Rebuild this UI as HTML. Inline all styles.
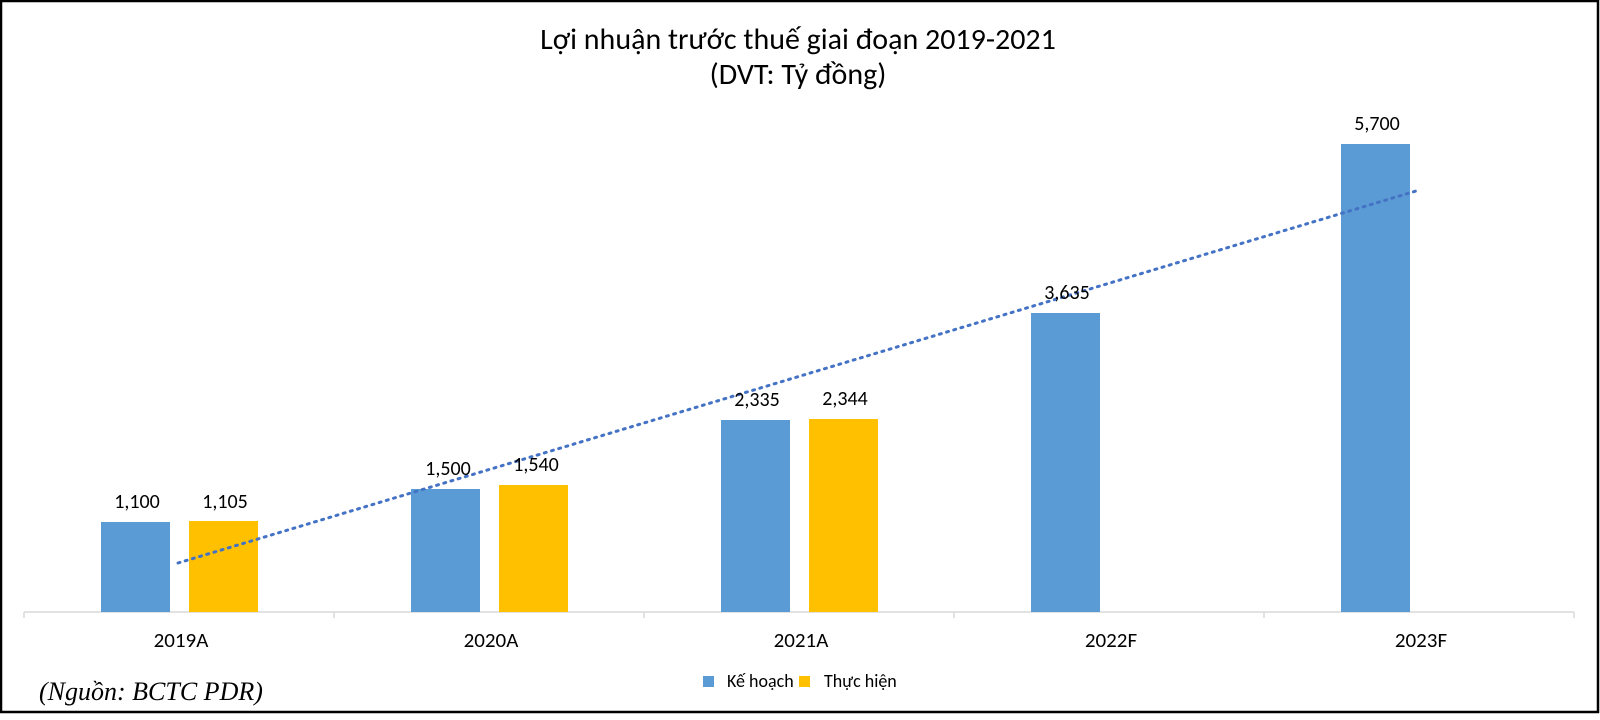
<!DOCTYPE html>
<html><head><meta charset="utf-8"><style>
html,body{margin:0;padding:0;background:#fff;}
svg{display:block;}
</style></head><body>
<svg width="1600" height="720" xmlns="http://www.w3.org/2000/svg" font-family="Calibri, Carlito, 'Liberation Sans', 'DejaVu Sans', sans-serif">
<rect x="1" y="1" width="1597" height="711" fill="#fff" stroke="#000" stroke-width="2.5"/>
<text x="798" y="49" font-size="30" text-anchor="middle" fill="#000">Lợi nhuận trước thuế giai đoạn 2019-2021</text>
<text x="798" y="84" font-size="30" text-anchor="middle" fill="#000">(DVT: Tỷ đồng)</text>
<line x1="24" y1="612" x2="1574" y2="612" stroke="#d9d9d9" stroke-width="1.5"/>
<g stroke="#d9d9d9" stroke-width="1.5">
<line x1="24" y1="612" x2="24" y2="618"/><line x1="334" y1="612" x2="334" y2="618"/><line x1="644" y1="612" x2="644" y2="618"/><line x1="954" y1="612" x2="954" y2="618"/><line x1="1264" y1="612" x2="1264" y2="618"/><line x1="1574" y1="612" x2="1574" y2="618"/>
</g>
<g fill="#5b9bd5">
<rect x="101" y="522" width="69" height="90"/>
<rect x="411" y="489" width="69" height="123"/>
<rect x="721" y="420" width="69" height="192"/>
<rect x="1031" y="313" width="69" height="299"/>
<rect x="1341" y="144" width="69" height="468"/>
</g>
<g fill="#ffc000">
<rect x="189" y="521" width="69" height="91"/>
<rect x="499" y="485" width="69" height="127"/>
<rect x="809" y="419" width="69" height="193"/>
</g>
<line x1="178" y1="563" x2="1416" y2="191" stroke="#4472c4" stroke-width="3" stroke-dasharray="2,5.5" stroke-linecap="round"/>
<g font-size="20" text-anchor="middle" fill="#000">
<text x="137" y="508">1,100</text><text x="225" y="508">1,105</text>
<text x="448" y="475">1,500</text><text x="536" y="471">1,540</text>
<text x="757" y="406">2,335</text><text x="845" y="405">2,344</text>
<text x="1067" y="299">3,635</text>
<text x="1377" y="130">5,700</text>
</g>
<g font-size="21" text-anchor="middle" fill="#000">
<text x="181" y="647">2019A</text><text x="491" y="647">2020A</text><text x="801" y="647">2021A</text><text x="1111" y="647">2022F</text><text x="1421" y="647">2023F</text>
</g>
<rect x="703" y="676" width="11" height="11" fill="#5b9bd5"/>
<text x="727" y="687" font-size="18" fill="#000">Kế hoạch</text>
<rect x="799" y="676" width="11" height="11" fill="#ffc000"/>
<text x="824" y="687" font-size="18" fill="#000">Thực hiện</text>
<text x="39" y="700" font-size="26" font-style="italic" font-family="'Liberation Serif', 'DejaVu Serif', serif" fill="#000">(Nguồn: BCTC PDR)</text>
</svg>
</body></html>
